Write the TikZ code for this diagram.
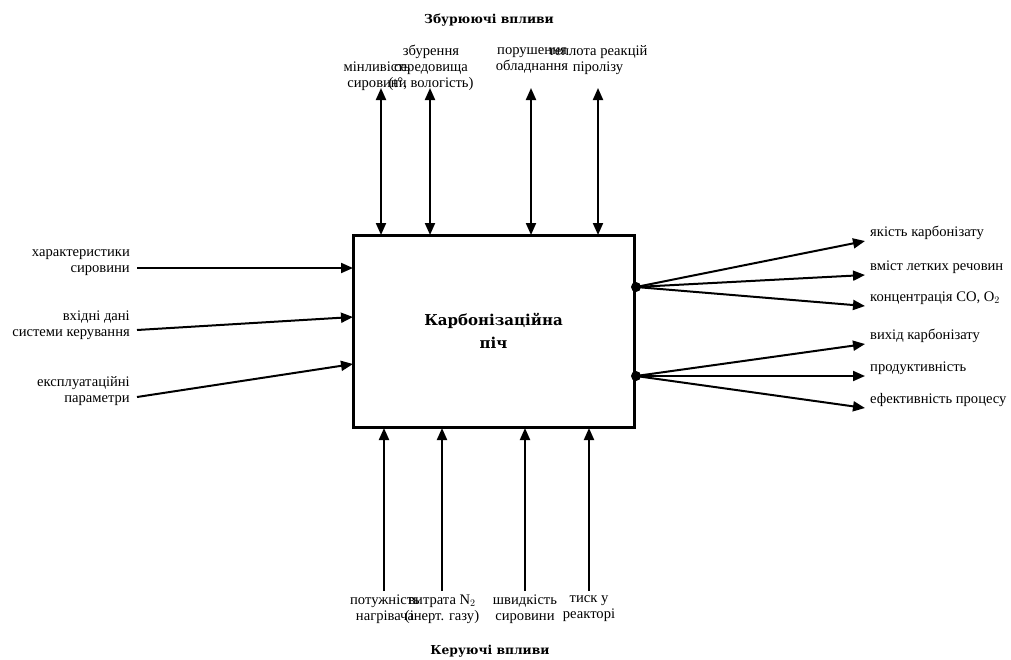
\documentclass[tikz,border=0pt]{standalone}
\usepackage{fontspec}
\setmainfont{Liberation Serif}
\newfontfamily\headfont{DejaVu Serif}
\usetikzlibrary{arrows.meta, positioning, calc}

\begin{document}
\begin{tikzpicture}[
	x=1pt, y=-1pt,
	pich/.style={rectangle, draw, line width=3pt, minimum width=281pt, minimum height=192pt, align=center, font=\headfont\fontsize{15}{23}\selectfont\bfseries},
	label/.style={inner sep=0pt, font=\fontsize{14.6}{16}\selectfont},
	header/.style={inner sep=0pt, font=\headfont\fontsize{12.3}{16}\selectfont\bfseries},
	junction/.style={circle, fill, inner sep=0pt, minimum size=10pt},
	flow/.style={-{Triangle[length=12pt, width=10pt]}, line width=2pt},
	twoway/.style={{Triangle[length=12pt, width=10pt]}-{Triangle[length=12pt, width=10pt]}, line width=2pt}
	]
	\useasboundingbox (0,0) rectangle (1011,659);

	% --- ПІЧ ---
	\node[pich] (pich) at (493.5,331) {Карбонізаційна\\піч};

	% --- ЗБУРЮЮЧІ ВПЛИВИ (ЗВЕРХУ) ---
	\node[header] (zb) at (489,20) {Збурюючі впливи};
	\node[label, align=center] (zb-1) at (377,76) {мінливість\\сировини};
	\node[label, align=center] (zb-2) at (431,68) {збурення\\середовища\\(t°, вологість)};
	\node[label, align=center] (zb-3) at (532,60) {порушення\\обладнання};
	\node[label, align=center] (zb-4) at (598,60) {теплота реакцій\\піролізу};
	\foreach \i/\x in {1/381, 2/430, 3/531, 4/598} {
		\coordinate (zt-\i) at (\x,88);
		\coordinate (zp-\i) at (\x,235);
		\draw[twoway] (zt-\i) -- (zp-\i);
	}

	% --- КЕРУЮЧІ ВПЛИВИ (ЗНИЗУ) ---
	\node[header] (ker) at (490,651) {Керуючі впливи};
	\node[label, align=center] (ker-1) at (385,609) {потужність\\нагрівача};
	\node[label, align=center] (ker-2) at (442,609) {витрата N$_2$\\(інерт. газу)};
	\node[label, align=center] (ker-3) at (525,609) {швидкість\\сировини};
	\node[label, align=center] (ker-4) at (589,609) {тиск у\\реакторі};
	\foreach \i/\x in {1/384, 2/442, 3/525, 4/589} {
		\coordinate (kb-\i) at (\x,591);
		\coordinate (kp-\i) at (\x,428);
		\draw[flow] (kb-\i) -- (kp-\i);
	}

	% --- ВХОДИ (ЗЛІВА) ---
	\node[label, align=right, anchor=east] (in-1) at (130,263) {характеристики\\сировини};
	\node[label, align=right, anchor=east] (in-2) at (130,325) {вхідні дані\\системи керування};
	\node[label, align=right, anchor=east] (in-3) at (130,391) {експлуатаційні\\параметри};
	\foreach \i/\ys/\ye in {1/268/268, 2/330/317, 3/397/364} {
		\coordinate (is-\i) at (137,\ys);
		\coordinate (ip-\i) at (353,\ye);
		\draw[flow] (is-\i) -- (ip-\i);
	}

	% --- ВИХОДИ (СПРАВА) ---
	\node[junction] (d-1) at (636,287) {};
	\node[junction] (d-2) at (636,376) {};
	\foreach \i/\y/\d/\txt in {1/241/1/якість карбонізату, 2/275/1/вміст летких речовин, 3/306/1/{концентрація CO, O$_2$}, 4/344/2/вихід карбонізату, 5/376/2/продуктивність, 6/408/2/ефективність процесу} {
		\coordinate (out-\i) at (865,\y);
		\node[label, anchor=west] (o-\i) at (870,\y-8) {\txt};
		\draw[flow] (d-\d.center) -- (out-\i);
	}

\end{tikzpicture}
\end{document}
